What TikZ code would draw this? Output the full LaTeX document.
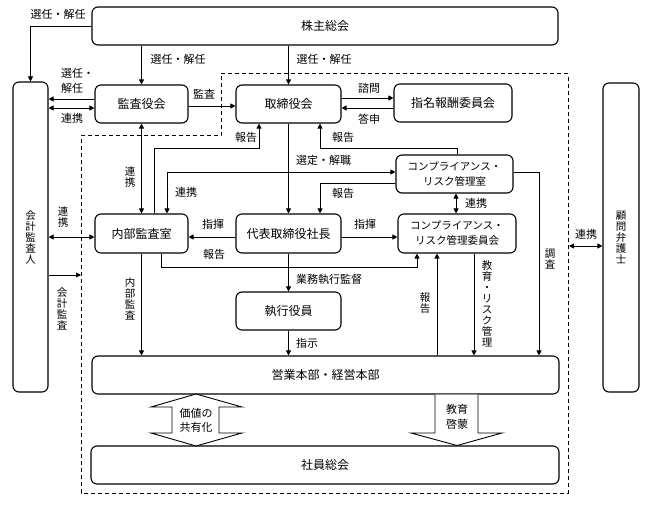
\documentclass[tikz,border=0pt]{standalone}
\usepackage{fontspec}
\setmainfont{Noto Sans CJK JP}
\usetikzlibrary{arrows.meta}
\begin{document}
\begin{tikzpicture}[x=1pt,y=-1pt,
  box/.style={draw, line width=1.1pt, rounded corners=6pt, align=center, font=\fontsize{12}{15}\selectfont, inner sep=0pt},
  cbox/.style={box, font=\fontsize{10.5}{15}\selectfont},
  lbl/.style={font=\fontsize{11}{13}\selectfont, inner sep=0pt},
  vlbl/.style={font=\fontsize{10.5}{11}\selectfont, inner sep=0pt, align=center},
  arr/.style={line width=0.9pt, -{Triangle[length=5pt,width=5pt]}},
  darr/.style={line width=0.9pt, {Triangle[length=5pt,width=5pt]}-{Triangle[length=5pt,width=5pt]}},
  ln/.style={line width=0.9pt},
  dsh/.style={line width=1pt, dash pattern=on 4pt off 3pt},
  big/.style={line width=0.9pt, fill=white}]

\fill[white] (0,0) rectangle (647,510);
\useasboundingbox (0,0) rectangle (647,510);

% dashed boundary
\draw[dsh] (221,74) -- (568,74) -- (568,493) -- (81,493) -- (81,136) -- (221,136) -- cycle;
\coordinate (dl) at (81,275);
\coordinate (dr) at (569,246);

% boxes
\node[box, minimum width=466pt, minimum height=38pt] (soukai) at (325,26) {株主総会};
\node[box, minimum width=35pt, minimum height=310pt, font=\fontsize{10.5}{11}\selectfont] (kaikei) at (30.5,237) {会\\計\\監\\査\\人};
\node[box, minimum width=36pt, minimum height=309pt, font=\fontsize{10.5}{11}\selectfont] (komon) at (621,237.5) {顧\\問\\弁\\護\\士};
\node[box, minimum width=93pt, minimum height=38pt] (kansa) at (141.5,104) {監査役会};
\node[box, minimum width=105pt, minimum height=38pt] (tori) at (288.5,104) {取締役会};
\node[box, minimum width=118pt, minimum height=38pt] (shimei) at (453,103) {指名報酬委員会};
\node[box, minimum width=93pt, minimum height=39pt] (naibu) at (141.5,233.5) {内部監査室};
\node[box, minimum width=105pt, minimum height=39pt] (daihyo) at (288.5,233.5) {代表取締役社長};
\node[cbox, minimum width=117pt, minimum height=38pt] (cmroom) at (454.5,174) {コンプライアンス・\\リスク管理室};
\node[cbox, minimum width=118pt, minimum height=39pt] (cmcomm) at (457,233.5) {コンプライアンス・\\リスク管理委員会};
\node[box, minimum width=105pt, minimum height=38pt] (shikko) at (288.5,311) {執行役員};
\node[box, minimum width=467pt, minimum height=38pt] (eigyo) at (325.5,375) {営業本部・経営本部};
\node[box, minimum width=468pt, minimum height=38pt] (shain) at (325,465) {社員総会};

% connectors
\draw[arr] (soukai.west) -| (kaikei.north);
\node[lbl] (l1) at (58,14) {選任・解任};
\draw[arr] (kansa.north |- soukai.south) -- (kansa.north);
\node[lbl] (l2) at (178,59) {選任・解任};
\draw[arr] (tori.north |- soukai.south) -- (tori.north);
\node[lbl] (l3) at (324,59) {選任・解任};

\draw[arr] (kansa.west |- 0,99) -- (kaikei.east |- 0,99);
\node[lbl, align=left, anchor=west, font=\fontsize{11}{15}\selectfont] (l4) at (61,80.5) {選任・\\解任};
\draw[darr] (kaikei.east |- 0,108) -- (kansa.west |- 0,108);
\node[lbl] (l5) at (72,118.5) {連携};

\draw[arr] (kansa.east |- 0,106) -- (tori.west |- 0,106);
\node[lbl] (l6) at (204,94.5) {監査};
\draw[arr] (tori.east |- 0,98) -- (shimei.west |- 0,98);
\node[lbl] (l7) at (369,88) {諮問};
\draw[arr] (shimei.west |- 0,108) -- (tori.east |- 0,108);
\node[lbl] (l8) at (369,119) {答申};

\draw[arr] (154,0 |- naibu.north) -- (154,148) -| (259,0 |- tori.south);
\node[lbl] (l9) at (246,137) {報告};
\draw[darr] (kansa.south) -- (naibu.north);
\node[vlbl] (l10) at (130,177) {連\\携};
\draw[arr] (tori.south) -- (daihyo.north);
\node[lbl, anchor=west] (l11) at (296,160) {選定・解職};
\draw[arr] (457,0 |- cmroom.north) -- (457,148) -| (320,0 |- tori.south);
\node[lbl] (l12) at (343,137) {報告};
\draw[darr] (cmroom.west |- 0,172) -| (167,0 |- naibu.north);
\node[lbl] (l13) at (186,192) {連携};
\draw[arr] (cmroom.west |- 0,183) -| (320,0 |- daihyo.north);
\node[lbl] (l14) at (343,193) {報告};

\draw[arr] (daihyo.west |- 0,237) -- (naibu.east |- 0,237);
\node[lbl] (l15) at (213,224) {指揮};
\draw[arr] (daihyo.east |- 0,237) -- (cmcomm.west |- 0,237);
\node[lbl] (l16) at (365,224) {指揮};
\draw[arr] (161,0 |- naibu.south) -- (161,267) -| (417,0 |- cmcomm.south);
\node[lbl] (l17) at (214,254) {報告};
\draw[arr] (daihyo.south) -- (shikko.north);
\node[lbl, anchor=west] (l18) at (296,279) {業務執行監督};
\draw[arr] (shikko.south) -- (shikko.south |- eigyo.north);
\node[lbl, anchor=west] (l19) at (296,343) {指示};
\draw[arr] (naibu.south) -- (naibu.south |- eigyo.north);
\node[vlbl] (l20) at (130,299) {内\\部\\監\\査};

\draw[arr] (kaikei.east |- dl) -- (dl);
\node[vlbl] (l21) at (62,309) {会\\計\\監\\査};
\draw[darr] (kaikei.east |- 0,237) -- (naibu.west |- 0,237);
\node[vlbl] (l22) at (63,217) {連\\携};

\draw[arr] (437,0 |- eigyo.north) -- (437,0 |- cmcomm.south);
\node[vlbl] (l23) at (425,303) {報\\告};
\draw[arr] (474,0 |- cmcomm.south) -- (474,0 |- eigyo.north);
\node[vlbl] (l24) at (487,304) {教\\育\\・\\リ\\ス\\ク\\管\\理};
\draw[arr] (cmroom.east |- 0,172) -| (539,0 |- eigyo.north);
\node[vlbl] (l25) at (550,259) {調\\査};
\draw[darr] (456,0 |- cmroom.south) -- (456,0 |- cmcomm.north);
\node[lbl] (l26) at (476,203) {連携};
\draw[darr] (dr) -- (komon.west |- dr);
\node[lbl] (l27) at (586,234) {連携};

% big arrows
\draw[big] (196,394) -- (242,407) -- (219,407) -- (219,433) -- (242,433) -- (196,446) -- (151,433) -- (172,433) -- (172,407) -- (151,407) -- cycle;
\node[lbl, align=center, font=\fontsize{11}{14}\selectfont] (l28) at (196,420) {価値の\\共有化};
\draw[big] (435,394.5) -- (435,433) -- (411,433) -- (457,445.5) -- (502,433) -- (478,433) -- (478,394.5);
\node[lbl, align=center, font=\fontsize{11}{15}\selectfont] (l29) at (457,417) {教育\\啓蒙};
\end{tikzpicture}
\end{document}
